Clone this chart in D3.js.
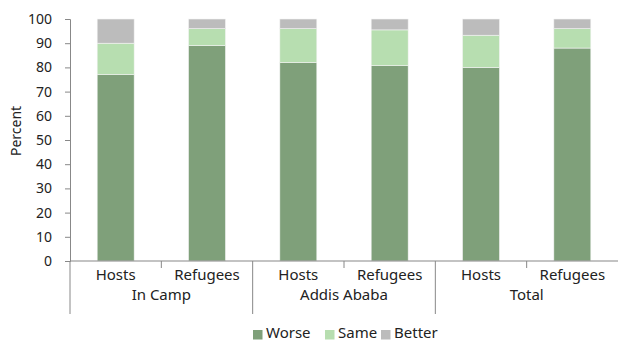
<!DOCTYPE html>
<meta charset="utf-8">
<style>
body { margin: 0; background: #fff; }
svg text { font-family: "Source Sans Pro", "Noto Sans", sans-serif; fill: #222; }
</style>
<svg width="618" height="341"></svg>
<script src="https://d3js.org/d3.v7.min.js"></script>
<script>
var groups = ["In Camp", "Addis Ababa", "Total"];
var categories = ["Hosts", "Refugees"];
var series = ["Worse", "Same", "Better"];
var worse = [77, 89, 82, 80.7, 80, 88];
var same = [13, 7, 14, 14.8, 13.3, 8];
var better = [10, 4, 4, 4.5, 6.7, 4];
var yTicks = [0, 10, 20, 30, 40, 50, 60, 70, 80, 90, 100];

var colors = {Worse: "#7fa07a", Same: "#b7deb0", Better: "#bcbcbc"};

var svg = d3.select("svg"),
  margin = {top: 19, right: 0, bottom: 80, left: 70},
  width = +svg.attr("width") - margin.left - margin.right,
  height = +svg.attr("height") - margin.top - margin.bottom;

var keys = [];
groups.forEach(function(g) {
  categories.forEach(function(c) { keys.push(g + "|" + c); });
});

var rows = keys.map(function(k, i) {
  return {key: k, Worse: worse[i], Same: same[i], Better: better[i]};
});

var x = d3.scaleBand().domain(keys).range([0, width]).paddingInner(0.595).paddingOuter(0.2975);
var y = d3.scaleLinear().domain([0, 100]).range([height, 0]);

var g = svg.append("g")
  .attr("transform", "translate(" + margin.left + "," + margin.top + ")");

var stack = d3.stack().keys(series)(rows);

g.selectAll(".layer").data(stack).enter().append("g")
  .attr("fill", function(d) { return colors[d.key]; })
  .selectAll("rect").data(function(d) { return d; }).enter().append("rect")
  .attr("x", function(d) { return x(d.data.key); })
  .attr("width", x.bandwidth())
  .attr("y", function(d) { return y(d[1]); })
  .attr("height", function(d) { return y(d[0]) - y(d[1]); })
  .attr("stroke", "#f4f4f4")
  .attr("stroke-width", 0.6);

// y axis
var yAxis = g.append("g")
  .call(d3.axisLeft(y).tickValues(yTicks).tickSize(5).tickPadding(13));
yAxis.select(".domain").attr("stroke", "#888");
yAxis.selectAll(".tick line").attr("stroke", "#888");
yAxis.selectAll(".tick text").style("font-size", "14px").attr("fill", "#222");

svg.append("text")
  .attr("transform", "translate(21,131) rotate(-90)")
  .attr("text-anchor", "middle")
  .style("font-size", "14px")
  .text("Percent");

// x axis baseline
g.append("line")
  .attr("x1", 0).attr("x2", width)
  .attr("y1", height).attr("y2", height)
  .attr("stroke", "#888").attr("stroke-width", 1.2);

var step = x.step();
var groupWidth = step * categories.length;

// category boundaries within groups
groups.forEach(function(grp, gi) {
  var gx = gi * groupWidth;
  for (var ci = 1; ci < categories.length; ci++) {
    g.append("line")
      .attr("x1", gx + ci * step).attr("x2", gx + ci * step)
      .attr("y1", height).attr("y2", height + 7)
      .attr("stroke", "#888");
  }
  g.append("line")
    .attr("x1", gx).attr("x2", gx)
    .attr("y1", height).attr("y2", height + 53)
    .attr("stroke", "#888");
  g.append("text")
    .attr("x", gx + groupWidth / 2)
    .attr("y", height + 39)
    .attr("text-anchor", "middle")
    .style("font-size", "15px")
    .text(grp);
});

g.selectAll(".cat").data(keys).enter().append("text")
  .attr("x", function(d) { return x(d) + x.bandwidth() / 2; })
  .attr("y", height + 19)
  .attr("text-anchor", "middle")
  .style("font-size", "15px")
  .text(function(d) { return d.split("|")[1]; });

// legend
var legendX = [253, 325, 381];
var legend = svg.append("g").attr("transform", "translate(0,338)");
series.forEach(function(s, i) {
  legend.append("rect")
    .attr("x", legendX[i]).attr("y", -8)
    .attr("width", 9.5).attr("height", 9.5)
    .attr("fill", colors[s]);
  legend.append("text")
    .attr("x", legendX[i] + 13).attr("y", 0)
    .style("font-size", "15px")
    .text(s);
});
</script>
